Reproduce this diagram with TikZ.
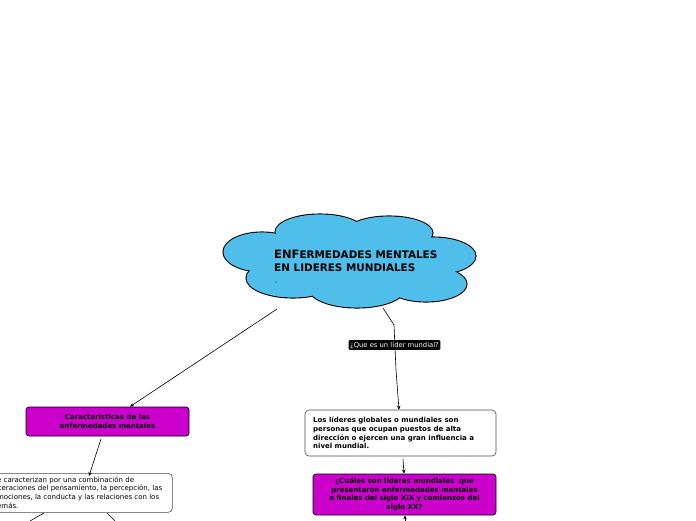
\documentclass[tikz,border=0pt]{standalone}
\usepackage{fontspec}
\setmainfont{DejaVu Sans}
\usetikzlibrary{arrows.meta}
\definecolor{cloudblue}{RGB}{79,190,235}
\definecolor{magbox}{RGB}{204,0,204}
\begin{document}
\begin{tikzpicture}[x=1pt,y=-1pt,
  conn/.style={draw=black,line width=0.6pt},
  arr/.style={conn,-{Stealth[length=4pt,width=3.5pt]}},
  magnode/.style={draw=black,line width=0.7pt,fill=magbox,rounded corners=3pt,font=\fontsize{7}{8.7}\selectfont\bfseries,align=center,inner sep=0pt},
  whitenode/.style={draw=black!70,line width=0.6pt,fill=white,rounded corners=4pt,inner sep=0pt},
  tagnode/.style={fill=black,text=white,rounded corners=1pt,font=\fontsize{6.8}{7.5}\selectfont,inner sep=1.5pt}]
\useasboundingbox (0,0) rectangle (696,520);
\clip (0,0) rectangle (696,520);
% cloud
\foreach \cx/\cy/\rx/\ry in {320/232/45/18, 389/233/44/17, 262/252/39/20, 433/256/43/19, 293/278/47/20, 357/289/48/19, 426/284/41/18}
  \draw[black,line width=1.1pt,fill=cloudblue] (\cx,\cy) ellipse [x radius=\rx, y radius=\ry];
\foreach \cx/\cy/\rx/\ry in {320/232/45/18, 389/233/44/17, 262/252/39/20, 433/256/43/19, 293/278/47/20, 357/289/48/19, 426/284/41/18}
  \fill[cloudblue] (\cx,\cy) ellipse [x radius=\rx-0.6, y radius=\ry-0.6];
\fill[cloudblue] (350,262) ellipse [x radius=95, y radius=28];
\node[anchor=west,align=left,inner sep=0pt,font=\fontsize{10.4}{12.5}\selectfont\bfseries] (title) at (274,261)
  {{\fontsize{11.5}{12.5}\selectfont ENF}ERMEDADES MENTALES\\EN LIDERES MUNDIALES};
\fill[teal!80!cyan] (276,282) circle (0.8);
\coordinate (c1) at (277,309);
\coordinate (c2) at (383,308);
% boxes
\node[magnode,minimum width=163pt,minimum height=29pt] (car) at (107.5,421.5)
  {Características de las\\enfermedades mentales};
\node[whitenode,anchor=north west,minimum width=188pt,minimum height=39pt] (desc) at (-16,473) {};
\node[anchor=north west,align=left,inner sep=0pt,font=\fontsize{7}{8.6}\selectfont] (desctext) at (-7.5,476.5)
  {Se caracterizan por una combinación de\\alteraciones del pensamiento, la percepción, las\\emociones, la conducta y las relaciones con los\\demás.};
\node[whitenode,minimum width=191pt,minimum height=46pt] (lid) at (400.5,433) {};
\node[anchor=north west,align=left,inner sep=0pt,font=\fontsize{7}{8.6}\selectfont\bfseries] (lidtext) at (313,417)
  {Los líderes globales o mundiales son\\personas que ocupan puestos de alta\\dirección o ejercen una gran influencia a\\nivel mundial.};
\node[magnode,minimum width=183pt,minimum height=41pt] (cual) at (404.5,494.5)
  {¿Cuáles son líderes mundiales \ que\\presentaron enfermedades mentales\\ a finales del siglo XIX y comienzos del\\siglo XX?};
% connectors
\draw[arr] (c1) -- (car.north -| 130,0);
\draw[arr] (c2) -- (394,325) -- (396,370) -- (lid.north -| 399,0);
\node[tagnode] (tag) at (394.5,345) {¿Que es un líder mundial?};
\draw[arr] (101,439) -- (89,476);
\draw[arr] (403,459) -- (cual.north -| 404,0);
\coordinate (d1) at (30,521);
\coordinate (d2) at (115,521);
\draw[conn] (44,513) -- (d1);
\draw[conn] (107,513) -- (d2);
\coordinate (b1) at (405,522);
\draw[arr] (b1) -- (cual.south -| 405,0);
\end{tikzpicture}
\end{document}
